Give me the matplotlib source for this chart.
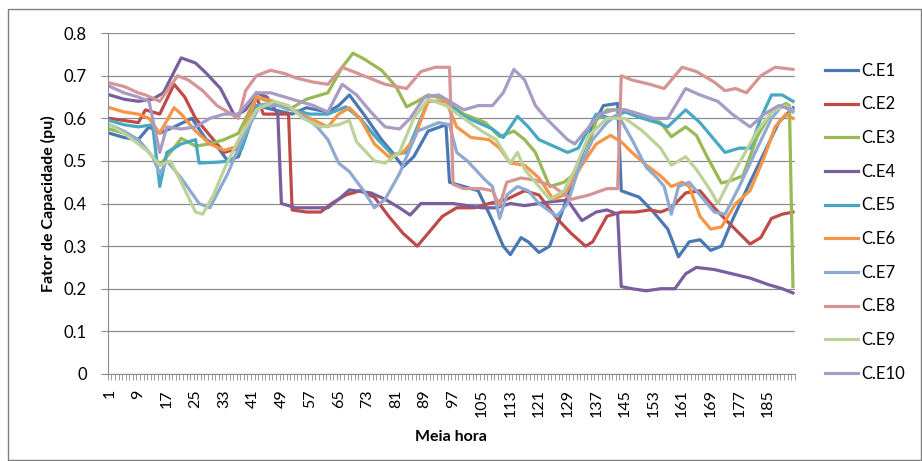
import numpy as np
import matplotlib
matplotlib.use("Agg")
import matplotlib.pyplot as plt
from matplotlib.patches import Rectangle

plt.rcParams['font.family'] = ['Lato', 'DejaVu Sans']

# half-hour index / capacity factor (pu)
ce1_t = [1, 5, 9, 12, 15, 19, 24, 28, 31, 34, 37, 42, 47, 52, 56, 62, 65, 68, 72, 77, 80, 83, 86, 90, 95,
         96, 100, 104, 108, 111, 113, 116, 118, 121, 124, 127, 130, 133, 136, 139, 143, 144, 149, 153, 157,
         160, 163, 166, 169, 172, 175, 180, 184, 188, 192]
ce1_v = [0.565, 0.555, 0.55, 0.58, 0.565, 0.58, 0.60, 0.55, 0.535, 0.50, 0.51, 0.63, 0.62, 0.61, 0.625,
         0.615, 0.63, 0.655, 0.61, 0.55, 0.52, 0.486, 0.51, 0.57, 0.585, 0.45, 0.44, 0.43, 0.36, 0.30,
         0.28, 0.32, 0.31, 0.285, 0.30, 0.37, 0.44, 0.515, 0.58, 0.63, 0.635, 0.43, 0.415, 0.38, 0.34,
         0.275, 0.31, 0.315, 0.29, 0.30, 0.36, 0.45, 0.52, 0.59, 0.625]

ce2_t = [1, 5, 9, 11, 15, 19, 22, 25, 29, 33, 37, 42, 44, 51, 52, 56, 60, 63, 67, 71, 75, 79, 83, 87, 90,
         94, 98, 103, 107, 112, 117, 121, 126, 130, 134, 136, 140, 144, 148, 152, 155, 158, 162, 166, 170,
         174, 177, 180, 183, 186, 189, 192]
ce2_v = [0.60, 0.595, 0.59, 0.62, 0.61, 0.68, 0.65, 0.60, 0.56, 0.52, 0.53, 0.65, 0.61, 0.61, 0.385,
         0.38, 0.38, 0.40, 0.42, 0.43, 0.415, 0.37, 0.33, 0.30, 0.33, 0.37, 0.39, 0.39, 0.40, 0.41,
         0.43, 0.42, 0.365, 0.33, 0.30, 0.31, 0.37, 0.38, 0.38, 0.385, 0.38, 0.39, 0.425, 0.43, 0.39,
         0.355, 0.33, 0.305, 0.32, 0.365, 0.375, 0.38]

ce3_t = [1, 5, 9, 12, 15, 18, 21, 25, 29, 33, 37, 42, 47, 51, 56, 62, 64, 66, 69, 72, 77, 81, 84, 87, 90,
         95, 97, 100, 106, 110, 114, 117, 120, 124, 128, 131, 134, 137, 140, 145, 149, 155, 158, 162, 165,
         168, 172, 175, 178, 182, 186, 190, 191, 192]
ce3_v = [0.575, 0.565, 0.55, 0.52, 0.49, 0.52, 0.553, 0.535, 0.54, 0.55, 0.565, 0.65, 0.635, 0.62, 0.645,
         0.66, 0.69, 0.72, 0.753, 0.74, 0.713, 0.675, 0.627, 0.64, 0.655, 0.645, 0.627, 0.61, 0.59, 0.557,
         0.57, 0.55, 0.52, 0.44, 0.45, 0.47, 0.51, 0.595, 0.62, 0.62, 0.61, 0.59, 0.557, 0.58, 0.56,
         0.51, 0.448, 0.455, 0.465, 0.557, 0.615, 0.635, 0.63, 0.205]

ce4_t = [1, 5, 9, 13, 16, 21, 25, 28, 32, 36, 39, 42, 45, 48, 49, 53, 57, 62, 65, 68, 74, 78, 82, 85, 88,
         93, 97, 101, 105, 109, 113, 117, 121, 125, 129, 133, 137, 140, 143, 144, 147, 151, 155, 159, 162,
         165, 170, 175, 180, 185, 189, 192]
ce4_v = [0.655, 0.645, 0.64, 0.645, 0.66, 0.742, 0.73, 0.706, 0.67, 0.605, 0.62, 0.66, 0.65, 0.61, 0.40,
         0.39, 0.39, 0.39, 0.41, 0.432, 0.425, 0.41, 0.39, 0.373, 0.40, 0.40, 0.40, 0.395, 0.39, 0.39,
         0.40, 0.395, 0.40, 0.405, 0.408, 0.36, 0.38, 0.385, 0.375, 0.205, 0.20, 0.195, 0.20, 0.20, 0.235,
         0.25, 0.245, 0.235, 0.225, 0.21, 0.20, 0.19]

ce5_t = [1, 5, 9, 13, 15, 17, 21, 25, 26, 31, 35, 38, 42, 47, 52, 57, 62, 67, 71, 76, 80, 84, 87, 90, 95,
         100, 104, 108, 111, 115, 118, 121, 125, 129, 132, 137, 141, 145, 150, 154, 157, 162, 166, 170, 173,
         177, 180, 183, 186, 189, 192]
ce5_v = [0.595, 0.585, 0.58, 0.585, 0.44, 0.52, 0.54, 0.55, 0.495, 0.497, 0.50, 0.53, 0.63, 0.635, 0.62,
         0.61, 0.61, 0.627, 0.60, 0.55, 0.515, 0.52, 0.58, 0.64, 0.64, 0.605, 0.59, 0.575, 0.555, 0.605,
         0.58, 0.55, 0.535, 0.52, 0.53, 0.61, 0.60, 0.615, 0.60, 0.59, 0.58, 0.62, 0.59, 0.55, 0.52,
         0.53, 0.53, 0.60, 0.655, 0.655, 0.64]

ce6_t = [1, 5, 9, 12, 15, 19, 21, 25, 29, 33, 37, 42, 47, 52, 57, 62, 65, 68, 71, 75, 79, 83, 86, 90, 95,
         98, 102, 107, 110, 113, 117, 121, 125, 128, 133, 137, 141, 144, 147, 151, 155, 158, 161, 163, 166,
         169, 172, 176, 180, 184, 187, 190, 192]
ce6_v = [0.625, 0.615, 0.61, 0.60, 0.565, 0.625, 0.61, 0.57, 0.54, 0.525, 0.535, 0.65, 0.64, 0.62, 0.60,
         0.58, 0.61, 0.625, 0.60, 0.54, 0.51, 0.52, 0.55, 0.64, 0.64, 0.58, 0.555, 0.55, 0.53, 0.495,
         0.49, 0.46, 0.41, 0.42, 0.49, 0.54, 0.56, 0.545, 0.52, 0.49, 0.465, 0.44, 0.45, 0.44, 0.37,
         0.34, 0.345, 0.40, 0.43, 0.51, 0.58, 0.61, 0.60]

ce7_t = [1, 5, 9, 13, 15, 17, 21, 26, 29, 34, 38, 43, 48, 52, 56, 59, 62, 65, 68, 72, 75, 78, 82, 87, 93,
         96, 98, 101, 106, 108, 110, 112, 115, 118, 121, 126, 129, 132, 136, 140, 143, 147, 151, 154, 156,
         158, 160, 163, 166, 170, 173, 177, 182, 186, 189, 192]
ce7_v = [0.585, 0.57, 0.55, 0.51, 0.47, 0.50, 0.46, 0.40, 0.39, 0.47, 0.55, 0.63, 0.63, 0.62, 0.60,
         0.58, 0.55, 0.495, 0.475, 0.43, 0.39, 0.41, 0.47, 0.57, 0.59, 0.585, 0.52, 0.50, 0.455, 0.44,
         0.365, 0.42, 0.44, 0.43, 0.40, 0.37, 0.40, 0.48, 0.55, 0.59, 0.61, 0.55, 0.485, 0.46, 0.44,
         0.375, 0.44, 0.45, 0.42, 0.38, 0.375, 0.44, 0.53, 0.60, 0.63, 0.615]

ce8_t = [1, 5, 9, 11, 15, 20, 23, 27, 31, 34, 37, 39, 42, 46, 50, 53, 58, 62, 66, 72, 78, 84, 88, 92, 96,
         97, 100, 105, 108, 110, 112, 116, 120, 125, 130, 135, 140, 143, 144, 147, 152, 156, 161, 165, 170,
         173, 176, 179, 183, 187, 192]
ce8_v = [0.683, 0.675, 0.66, 0.655, 0.64, 0.70, 0.69, 0.665, 0.63, 0.615, 0.60, 0.665, 0.70, 0.713, 0.705,
         0.695, 0.685, 0.68, 0.72, 0.70, 0.68, 0.67, 0.71, 0.72, 0.72, 0.445, 0.435, 0.435, 0.43, 0.395,
         0.45, 0.46, 0.455, 0.44, 0.41, 0.42, 0.435, 0.435, 0.70, 0.69, 0.68, 0.67, 0.72, 0.71, 0.685,
         0.665, 0.67, 0.66, 0.70, 0.72, 0.715]

ce9_t = [1, 5, 9, 12, 15, 18, 21, 25, 27, 30, 33, 37, 42, 47, 51, 55, 60, 65, 68, 70, 75, 78, 82, 86, 90,
         95, 100, 105, 109, 113, 115, 117, 121, 124, 128, 131, 135, 140, 145, 150, 155, 158, 162, 165, 169,
         171, 174, 178, 182, 186, 190, 192]
ce9_v = [0.585, 0.565, 0.54, 0.52, 0.49, 0.50, 0.45, 0.38, 0.375, 0.42, 0.48, 0.55, 0.62, 0.64, 0.63,
         0.60, 0.58, 0.585, 0.595, 0.545, 0.50, 0.495, 0.52, 0.60, 0.645, 0.63, 0.60, 0.57, 0.55, 0.495,
         0.52, 0.48, 0.44, 0.41, 0.43, 0.48, 0.56, 0.60, 0.60, 0.57, 0.53, 0.49, 0.51, 0.48, 0.43,
         0.40, 0.45, 0.51, 0.57, 0.615, 0.63, 0.62]

ce10_t = [1, 5, 9, 12, 15, 17, 21, 25, 29, 33, 37, 42, 46, 50, 54, 58, 62, 66, 70, 74, 78, 82, 85, 89, 93,
          96, 100, 104, 108, 111, 114, 117, 120, 123, 126, 129, 131, 135, 138, 142, 145, 149, 153, 157, 162,
          166, 171, 175, 180, 184, 188, 192]
ce10_v = [0.675, 0.66, 0.65, 0.64, 0.52, 0.58, 0.575, 0.58, 0.60, 0.61, 0.61, 0.66, 0.66, 0.65, 0.64,
          0.63, 0.615, 0.68, 0.655, 0.615, 0.58, 0.575, 0.60, 0.65, 0.655, 0.64, 0.62, 0.63, 0.63, 0.66,
          0.715, 0.69, 0.63, 0.60, 0.575, 0.55, 0.54, 0.58, 0.61, 0.62, 0.62, 0.61, 0.60, 0.60, 0.67,
          0.655, 0.64, 0.61, 0.58, 0.61, 0.63, 0.62]

labels = ['C.E1', 'C.E2', 'C.E3', 'C.E4', 'C.E5', 'C.E6', 'C.E7', 'C.E8', 'C.E9', 'C.E10']
colors = ['#4A78B4', '#BE4B48', '#98B954', '#7B5E9E', '#46A8C3', '#F59545',
          '#8FAAD2', '#D49594', '#BCD299', '#A99BC4']
x_ticks = list(range(1, 193, 8))
y_ticks = [0, 0.1, 0.2, 0.3, 0.4, 0.5, 0.6, 0.7, 0.8]
y_labels = ['0', '0.1', '0.2', '0.3', '0.4', '0.5', '0.6', '0.7', '0.8']

series = [(ce1_t, ce1_v), (ce2_t, ce2_v), (ce3_t, ce3_v), (ce4_t, ce4_v), (ce5_t, ce5_v),
          (ce6_t, ce6_v), (ce7_t, ce7_v), (ce8_t, ce8_v), (ce9_t, ce9_v), (ce10_t, ce10_v)]

fig = plt.figure(figsize=(9.22, 4.61), dpi=100)
ax = fig.add_axes([0.117, 0.189, 0.745, 0.739])

for (t, v), lab, c in zip(series, labels, colors):
    ax.plot(t, v, color=c, lw=2.3, label=lab, solid_joinstyle='round')

ax.set_xlim(0.5, 192.5)
ax.set_ylim(0, 0.8)
ax.set_yticks(y_ticks)
ax.set_yticklabels(y_labels, fontsize=12)
ax.yaxis.grid(True, color='#8c8c8c', lw=0.9)
ax.set_axisbelow(True)

ax.set_xticks(x_ticks)
ax.set_xticklabels([str(x) for x in x_ticks], rotation=90, fontsize=11.5)
ax.set_xticks(np.arange(0.5, 193, 1), minor=True)
ax.tick_params(axis='x', which='major', length=0, pad=11)
ax.tick_params(axis='x', which='minor', length=4, color='#8c8c8c', width=0.6)
ax.tick_params(axis='y', length=5, color='#8c8c8c', pad=10)

for s in ['top', 'right']:
    ax.spines[s].set_visible(False)
for s in ['left', 'bottom']:
    ax.spines[s].set_color('#8c8c8c')

ax.set_ylabel('Fator de Capacidade (pu)', fontsize=11.5, fontweight='bold', labelpad=6)
ax.set_xlabel('Meia hora', fontsize=11.5, fontweight='bold', labelpad=9)

fig.legend(loc='center left', bbox_to_anchor=(825 / 922, 0.518), frameon=False,
           fontsize=12, handlelength=2.0, handletextpad=0.15, labelspacing=1.06,
           borderpad=0, borderaxespad=0)

fig.patches.append(Rectangle((8 / 922, 1 / 461), 913 / 922, 451 / 461, transform=fig.transFigure,
                             fill=False, edgecolor='#7f7f7f', lw=1.0))

fig.savefig('out.png', dpi=100)
